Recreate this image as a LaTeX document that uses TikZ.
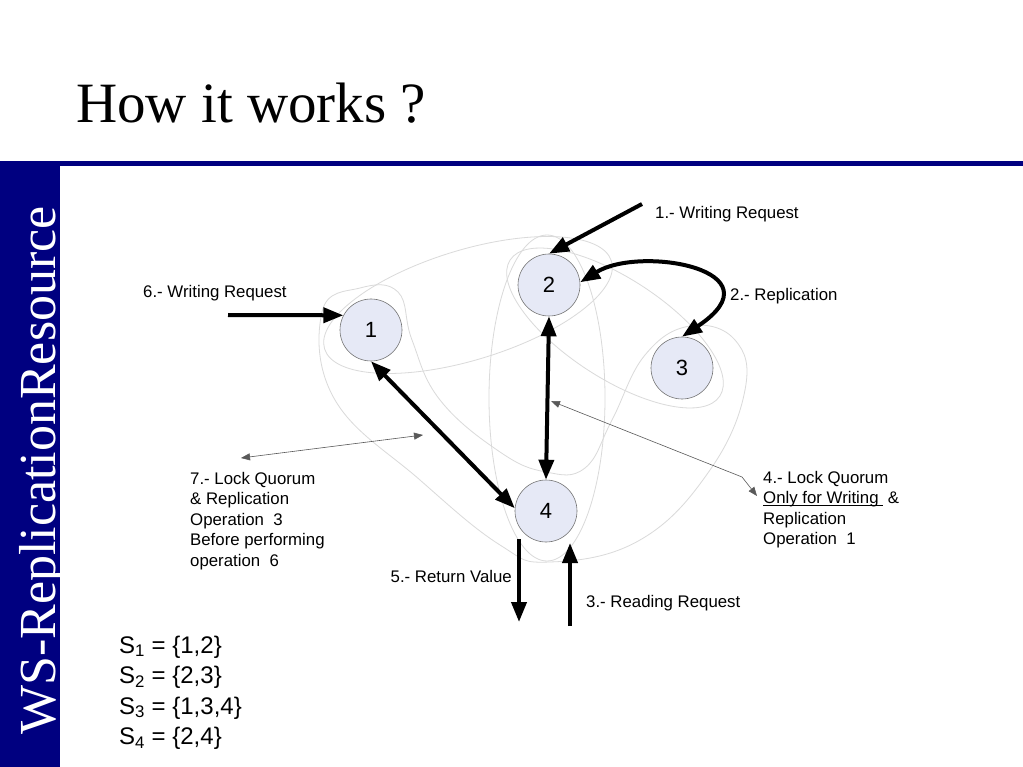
\documentclass[tikz,border=0pt]{standalone}
\usepackage{fontspec}
\setmainfont{Liberation Serif}
\setsansfont{Liberation Sans}
\usetikzlibrary{arrows.meta}
\definecolor{barBlue}{HTML}{000080}
\definecolor{siteFill}{HTML}{E6E9F6}
\definecolor{setGray}{HTML}{DADADA}
\newcommand{\undl}[1]{\setbox0=\hbox{#1}\rlap{\rule[-1.8pt]{\wd0}{0.8pt}}\box0}

\begin{document}
\begin{tikzpicture}[x=1pt, y=-1pt,
    site/.style={circle, draw=gray!90!black, line width=0.6pt, fill=siteFill,
        minimum size=62pt, inner sep=0pt, font=\sffamily\fontsize{22}{26}\selectfont},
    lbl/.style={inner sep=0pt, font=\sffamily\fontsize{16.8}{20.5}\selectfont},
    setlbl/.style={inner sep=0pt, anchor=base west, font=\sffamily\fontsize{24}{28}\selectfont},
    msg/.style={line width=4pt, >={Triangle[length=20pt,width=15pt]}},
    note/.style={draw=gray!70!black, line width=0.6pt, >={Triangle[length=9pt,width=7pt]}, <->},
    quorum/.style={draw=setGray, line width=0.8pt}]
    \useasboundingbox (0,0) rectangle (1023,767);
    \fill[white] (0,0) rectangle (1023,767);

    \fill[barBlue] (0,161) rectangle (1023,166);
    \fill[barBlue] (0,161) rectangle (60,767);
    \node[anchor=base west, inner sep=0pt, font=\fontsize{57}{60}\selectfont] (title) at (76,123) {How it works ?};
    \node[anchor=base west, rotate=90, inner sep=0pt, text=white, font=\fontsize{52}{56}\selectfont] (side) at (55,735) {WS-ReplicationResource};

    % quorum sets
    \draw[quorum, rotate around={17:(468,305)}] (468,305) ellipse [x radius=150, y radius=55];
    \draw[quorum, rotate around={-33:(615,328)}] (615,328) ellipse [x radius=125, y radius=50];
    \draw[quorum] (547,398) ellipse [x radius=58, y radius=163];
    \draw[quorum] plot[smooth cycle, tension=0.7] coordinates {(322,312) (335,400) (420,480) (500,545)
        (550,562) (640,540) (710,470) (745,390) (735,340) (690,326) (645,355) (612,420) (585,468)
        (546,472) (500,452) (440,400) (412,340) (398,292) (360,288)};

    \node[site] (n1) at (371,330) {1};
    \node[site] (n2) at (549,285) {2};
    \node[site] (n3) at (682,368) {3};
    \node[site] (n4) at (546,511) {4};

    \coordinate (w1) at (642,204);
    \coordinate (w6) at (228,315);
    \coordinate (ret top) at (519,539);
    \coordinate (ret end) at (519,622);
    \coordinate (read start) at (570,626);
    \coordinate (read tip) at (570,543);
    \coordinate (q7a) at (241,458);
    \coordinate (q7b) at (423,435);
    \coordinate (q4a) at (551,401);
    \coordinate (q4bend) at (742,477);
    \coordinate (q4b) at (757,496);

    \draw[msg, ->] (w1) -- (n2.north);
    \draw[msg, <->] (n2.5) .. controls (640,245) and (782,270) .. (n3.north);
    \draw[msg, ->] (w6) -- (n1.152);
    \draw[msg, <->] (n1.south) -- (n4.175);
    \draw[msg, <->] (n2.south) -- (n4.north);
    \draw[msg, ->] (ret top) -- (ret end);
    \draw[msg, ->] (read start) -- (read tip);
    \draw[note] (q7a) -- (q7b);
    \draw[note] (q4a) -- (q4bend) -- (q4b);

    \node[lbl, anchor=base west] (l1) at (655,219) {1.- Writing Request};
    \node[lbl, anchor=base west] (l2) at (730,301) {2.- Replication};
    \node[lbl, anchor=base west] (l6) at (143,298) {6.- Writing Request};
    \node[lbl, anchor=base east] (l5) at (512,582) {5.- Return Value};
    \node[lbl, anchor=base west] (l3) at (586,607) {3.- Reading Request};
    \node[lbl, align=left, anchor=north west] (l7) at (190,472)
        {7.- Lock Quorum\\ \& Replication\\ Operation~ 3\\ Before performing\\ operation~ 6};
    \node[lbl, align=left, anchor=north west] (l4) at (763,471)
        {4.- Lock Quorum\\ \undl{Only for Writing\ }\ \&\\ Replication\\ Operation~ 1};

    \foreach \s/\members [count=\k] in {1/{1,2}, 2/{2,3}, 3/{1,3,4}, 4/{2,4}}
        \node[setlbl] (s\s) at (119,622.5+30.5*\k) {S\textsubscript{\s} = \{\members\}};
\end{tikzpicture}
\end{document}
